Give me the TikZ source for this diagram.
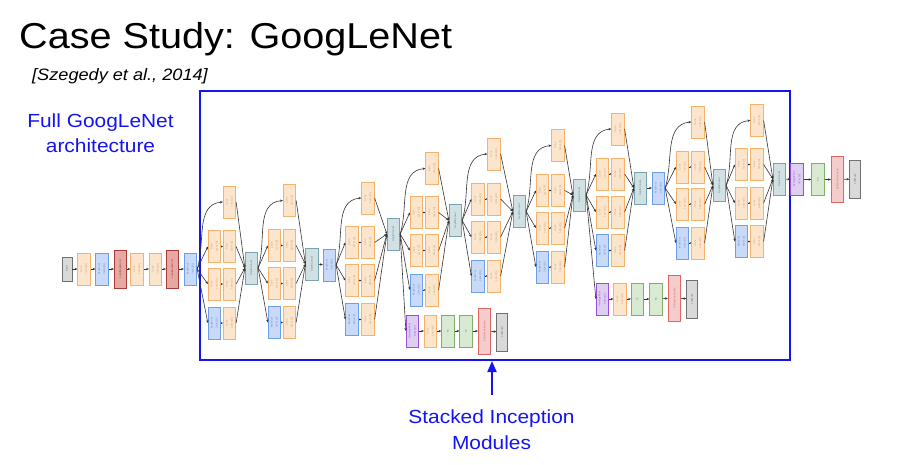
\documentclass[tikz,border=0pt]{standalone}
\usepackage{fontspec}
\setmainfont{Liberation Sans}
\usepackage{graphicx}
\usetikzlibrary{arrows.meta}
\definecolor{ublue}{RGB}{20,20,240}
\definecolor{convF}{HTML}{FCE5CD}\definecolor{convD}{HTML}{F6B26B}
\definecolor{poolF}{HTML}{C9DAF8}\definecolor{poolD}{HTML}{6D9EEB}
\definecolor{lrnF}{HTML}{E6A8A2}\definecolor{lrnD}{HTML}{A83A3A}
\definecolor{smF}{HTML}{F4CCCC}\definecolor{smD}{HTML}{E06666}
\definecolor{dcF}{HTML}{D0E0E3}\definecolor{dcD}{HTML}{76A5AF}
\definecolor{fcF}{HTML}{D9EAD3}\definecolor{fcD}{HTML}{7FB069}
\definecolor{apF}{HTML}{DCCFF0}\definecolor{apD}{HTML}{9B4FD6}
\definecolor{inF}{HTML}{D9D9D9}\definecolor{inD}{HTML}{707070}
\newcommand{\lbl}[2]{\rotatebox{90}{\shortstack{#1\\#2}}}
\newcommand{\rlbl}[1]{\rotatebox{90}{#1}}
\tikzset{
  blk/.style={draw, line width=0.75pt, minimum width=12.5pt, minimum height=32pt, inner sep=0pt, font=\fontsize{2.6}{3}\selectfont},
  conv/.style={blk, fill=convF, draw=convD, text=convD!85!black},
  pool/.style={blk, fill=poolF, draw=poolD, text=poolD!85!black},
  lrn/.style={blk, fill=lrnF, draw=lrnD, text=lrnD, minimum height=38pt},
  smact/.style={blk, fill=smF, draw=smD, text=smD, minimum height=46pt},
  dcat/.style={blk, fill=dcF, draw=dcD, text=dcD!80!black},
  fc/.style={blk, fill=fcF, draw=fcD, text=fcD!85!black},
  apool/.style={blk, fill=apF, draw=apD, text=apD},
  smx/.style={blk, fill=inF, draw=inD, text=inD, minimum width=10.5pt, minimum height=38pt},
  inp/.style={blk, fill=inF, draw=inD, text=inD, minimum width=10pt, minimum height=24pt},
  conn/.style={draw=black!80, line width=0.6pt, -{Stealth[length=2.8pt,width=2.4pt]}},
  link/.style={draw=black!80, line width=0.6pt, -{Stealth[length=1.8pt,width=2pt]}},
  bluetxt/.style={text=ublue, inner sep=0pt, anchor=base, font=\fontsize{19}{22}\selectfont},
}
% #1 prefix, #2 input node, #3 col1 x, #4 col2 x, #5 top y, #6..#8 row y, #9 concat node
\newcommand{\incmod}[9]{%
  \node[conv] (#1t) at (#4,#5) {\lbl{Conv}{1x1+1(S)}};
  \node[conv] (#1a) at (#3,#6) {\lbl{Conv}{1x1+1(S)}};
  \node[conv] (#1b) at (#4,#6) {\lbl{Conv}{3x3+1(S)}};
  \node[conv] (#1c) at (#3,#7) {\lbl{Conv}{1x1+1(S)}};
  \node[conv] (#1d) at (#4,#7) {\lbl{Conv}{5x5+1(S)}};
  \node[pool] (#1e) at (#3,#8) {\lbl{MaxPool}{3x3+1(S)}};
  \node[conv] (#1f) at (#4,#8) {\lbl{Conv}{1x1+1(S)}};
  \draw[conn] (#2.east) to[out=72,in=185] (#1t.west);
  \draw[conn] (#2.east) -- (#1a.west);
  \draw[conn] (#2.east) -- (#1c.west);
  \draw[conn] (#2.east) -- (#1e.west);
  \draw[link] (#1a) -- (#1b);
  \draw[link] (#1c) -- (#1d);
  \draw[link] (#1e) -- (#1f);
  \draw[conn] (#1t.east) -- (#9.west);
  \draw[conn] (#1b.east) -- (#9.west);
  \draw[conn] (#1d.east) -- (#9.west);
  \draw[conn] (#1f.east) -- (#9.west);
}
\begin{document}
\begin{tikzpicture}[x=1pt, y=-1pt]
\useasboundingbox (0,0) rectangle (918,465);
% titles
\node[anchor=base west, inner sep=0pt, font=\fontsize{36}{40}\selectfont] (title) at (19,49) {\scalebox{1.1}[1]{Case Study: GoogLeNet}};
\node[anchor=base west, inner sep=0pt, font=\fontsize{16.5}{19}\selectfont\itshape] (cite) at (32,81) {\scalebox{1.1}[1]{[Szegedy et al., 2014]}};
\node[bluetxt] (full1) at (100.5,128) {\scalebox{1.1}[1]{Full GoogLeNet}};
\node[bluetxt] (full2) at (100.5,153) {\scalebox{1.1}[1]{architecture}};
\node[bluetxt] (stk1) at (491.5,423) {\scalebox{1.1}[1]{Stacked Inception}};
\node[bluetxt] (stk2) at (491.5,449) {\scalebox{1.1}[1]{Modules}};
% frame
\node[draw=ublue, line width=2pt, minimum width=590pt, minimum height=269pt, inner sep=0pt, anchor=north west] (frame) at (199,90) {};
\coordinate (foot) at (492,395);
\draw[ublue, line width=1.8pt, -{Triangle[length=11pt,width=9pt]}] (foot) -- (foot |- frame.south);
% stem
\node[inp] (in) at (67,269) {\rlbl{input}};
\node[conv] (s1) at (84,269) {\lbl{Conv}{7x7+2(S)}};
\node[pool] (s2) at (102,269) {\lbl{MaxPool}{3x3+2(S)}};
\node[lrn] (s3) at (120.5,269) {\rlbl{LocalRespNorm}};
\node[conv] (s4) at (137,269) {\lbl{Conv}{1x1+1(V)}};
\node[conv] (s5) at (155.5,269) {\lbl{Conv}{3x3+1(S)}};
\node[lrn] (s6) at (172.5,269) {\rlbl{LocalRespNorm}};
\node[pool] (s7) at (190.5,269) {\lbl{MaxPool}{3x3+2(S)}};
\foreach \a/\b in {in/s1,s1/s2,s2/s3,s3/s4,s4/s5,s5/s6,s6/s7} \draw[conn] (\a) -- (\b);
% inception modules
\node[dcat] (D1) at (251.5,268) {\rlbl{DepthConcat}};
\incmod{a}{s7}{214.5}{229.5}{202}{246.5}{284}{323}{D1}
\node[dcat] (D2) at (312,264) {\rlbl{DepthConcat}};
\incmod{b}{D1}{274.5}{289.5}{200.5}{245.5}{283.5}{322.5}{D2}
\node[pool] (M3) at (329.5,265) {\lbl{MaxPool}{3x3+2(S)}};
\draw[conn] (D2) -- (M3);
\node[dcat] (D3) at (393.5,234) {\rlbl{DepthConcat}};
\incmod{c}{M3}{352}{368}{198}{242.5}{280.5}{319.5}{D3}
\node[dcat] (D4) at (455.5,220.5) {\rlbl{DepthConcat}};
\incmod{d}{D3}{416.5}{432}{168.5}{212.5}{250.5}{290}{D4}
\node[dcat] (D5) at (519.5,211.5) {\rlbl{DepthConcat}};
\incmod{e}{D4}{478}{494}{154}{199}{237}{276}{D5}
\node[dcat] (D6) at (579.5,195) {\rlbl{DepthConcat}};
\incmod{f}{D5}{542.5}{558}{145.5}{190.5}{228}{267}{D6}
\node[dcat] (D7) at (640.5,188) {\rlbl{DepthConcat}};
\incmod{g}{D6}{602.5}{618}{129}{174}{212}{250.5}{D7}
\node[pool] (M4) at (658.5,188) {\lbl{MaxPool}{3x3+2(S)}};
\draw[conn] (D7) -- (M4);
\node[dcat] (D8) at (719.5,185.5) {\rlbl{DepthConcat}};
\incmod{h}{M4}{682.5}{698}{122}{167}{204}{243}{D8}
\node[dcat] (D9) at (779.5,179) {\rlbl{DepthConcat}};
\incmod{k}{D8}{741.5}{757}{120.5}{164.5}{203}{241.5}{D9}
% auxiliary classifier 1
\node[apool] (x1) at (412.5,331) {\lbl{AveragePool}{5x5+3(V)}};
\node[conv] (x2) at (430.5,331) {\lbl{Conv}{1x1+1(S)}};
\node[fc] (x3) at (448,331) {\rlbl{FC}};
\node[fc] (x4) at (466,331) {\rlbl{FC}};
\node[smact] (x5) at (484.5,331) {\rlbl{SoftmaxActivation}};
\node[smx] (x6) at (502,332) {\rlbl{softmax0}};
\draw[conn] (D3.east) -- (x1.west);
\foreach \a/\b in {x1/x2,x2/x3,x3/x4,x4/x5,x5/x6} \draw[conn] (\a) -- (\b);
% auxiliary classifier 2
\node[apool] (y1) at (602.5,299) {\lbl{AveragePool}{5x5+3(V)}};
\node[conv] (y2) at (620,299) {\lbl{Conv}{1x1+1(S)}};
\node[fc] (y3) at (637.5,299) {\rlbl{FC}};
\node[fc] (y4) at (656,299) {\rlbl{FC}};
\node[smact] (y5) at (674.5,298) {\rlbl{SoftmaxActivation}};
\node[smx] (y6) at (692,299) {\rlbl{softmax1}};
\draw[conn] (D6.east) -- (y1.west);
\foreach \a/\b in {y1/y2,y2/y3,y3/y4,y4/y5,y5/y6} \draw[conn] (\a) -- (\b);
% output
\node[apool] (z1) at (797,179.5) {\lbl{AveragePool}{7x7+1(V)}};
\node[fc] (z2) at (818,179.5) {\rlbl{FC}};
\node[smact] (z3) at (837.5,179.5) {\rlbl{SoftmaxActivation}};
\node[smx] (z4) at (855,179) {\rlbl{softmax2}};
\foreach \a/\b in {D9/z1,z1/z2,z2/z3,z3/z4} \draw[conn] (\a) -- (\b);
\end{tikzpicture}
\end{document}
